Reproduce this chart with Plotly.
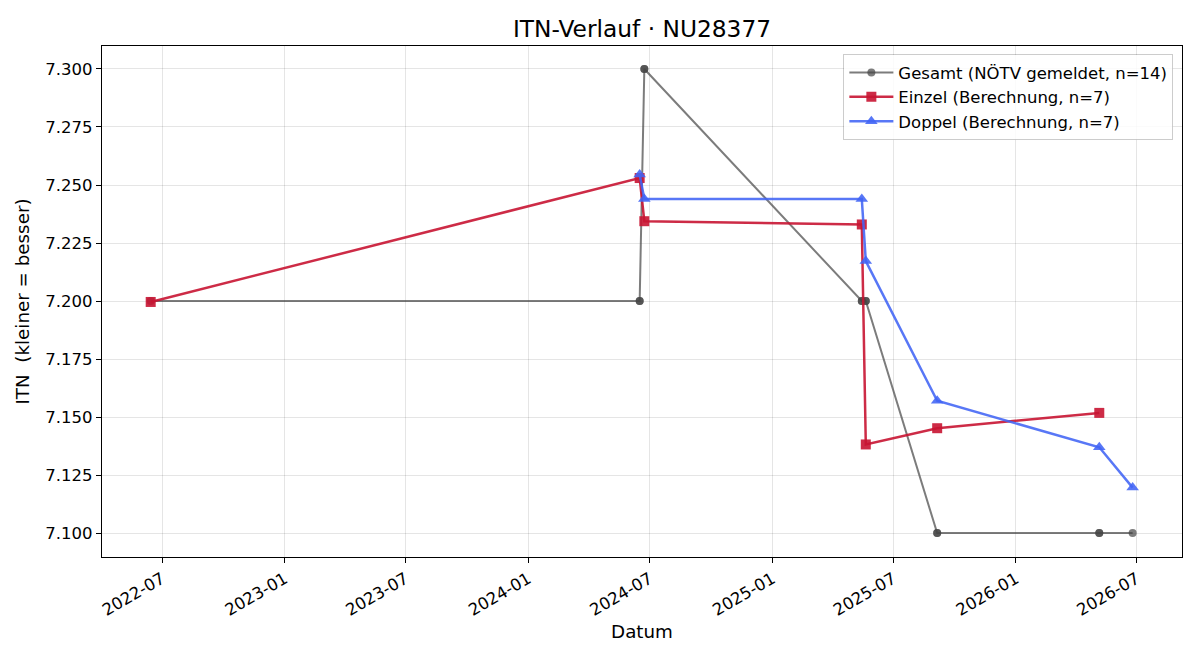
import plotly.graph_objects as go

# Gesamt (NÖTV gemeldet) – 14 Meldungen (einige am gleichen Datum)
gesamt_dates = ["2022-06-14", "2024-06-16", "2024-06-16", "2024-06-23", "2024-06-23",
                "2025-05-15", "2025-05-15", "2025-05-21", "2025-05-21",
                "2025-09-05", "2025-09-05", "2026-05-06", "2026-05-06", "2026-06-25"]
gesamt_itn = [7.200, 7.200, 7.200, 7.300, 7.300,
              7.200, 7.200, 7.200, 7.200,
              7.100, 7.100, 7.100, 7.100, 7.100]

einzel_dates = ["2022-06-14", "2024-06-16", "2024-06-23", "2025-05-15",
                "2025-05-21", "2025-09-05", "2026-05-06"]
einzel_itn = [7.1996, 7.2530, 7.2344, 7.2330, 7.1382, 7.1452, 7.1518]

doppel_dates = ["2024-06-16", "2024-06-23", "2025-05-15", "2025-05-21",
                "2025-09-05", "2026-05-06", "2026-06-25"]
doppel_itn = [7.2545, 7.2440, 7.2440, 7.2172, 7.1570, 7.1370, 7.1196]

y_ticks = [7.100, 7.125, 7.150, 7.175, 7.200, 7.225, 7.250, 7.275, 7.300]

FONT = "DejaVu Sans"
TICK_SIZE = 16.5
LABEL_SIZE = 18.3
TITLE_SIZE = 23.3

fig = go.Figure()
fig.add_trace(go.Scatter(
    x=gesamt_dates, y=gesamt_itn, mode="lines+markers",
    name="Gesamt (NÖTV gemeldet, n=14)",
    line=dict(color="rgba(68,68,68,0.7)", width=2),
    marker=dict(symbol="circle", size=8, color="rgba(68,68,68,0.7)"),
))
fig.add_trace(go.Scatter(
    x=einzel_dates, y=einzel_itn, mode="lines+markers",
    name="Einzel (Berechnung, n=7)",
    line=dict(color="rgba(200,20,50,0.9)", width=2.5),
    marker=dict(symbol="square", size=10, color="rgba(200,20,50,0.9)"),
))
fig.add_trace(go.Scatter(
    x=doppel_dates, y=doppel_itn, mode="lines+markers",
    name="Doppel (Berechnung, n=7)",
    line=dict(color="rgba(65,100,245,0.88)", width=2.5),
    marker=dict(symbol="triangle-up", size=11, color="rgba(65,100,245,0.88)"),
))

axis_common = dict(
    showline=True, linecolor="black", linewidth=1.2, mirror=True,
    ticks="outside", ticklen=5, tickcolor="black", tickwidth=1,
    showgrid=True, gridcolor="rgba(0,0,0,0.1)", gridwidth=1,
    zeroline=False, tickfont=dict(family=FONT, size=TICK_SIZE, color="black"),
)

fig.update_layout(
    width=1200, height=660,
    margin=dict(l=102, r=18, t=46, b=103),
    paper_bgcolor="white", plot_bgcolor="white",
    font=dict(family=FONT, color="black"),
    title=dict(text="ITN-Verlauf · NU28377", x=0.535, xanchor="center",
               y=0.957, yanchor="middle", font=dict(family=FONT, size=TITLE_SIZE, color="black")),
    legend=dict(x=0.992, y=0.984, xanchor="right", yanchor="top",
                bgcolor="rgba(255,255,255,0.85)", bordercolor="rgba(0,0,0,0.2)",
                borderwidth=1, font=dict(family=FONT, size=TICK_SIZE, color="black"),
                tracegroupgap=0, itemwidth=44),
    showlegend=True,
)
fig.update_xaxes(
    **axis_common,
    type="date", range=["2022-04-02", "2026-09-07"],
    tick0="2022-07-01", dtick="M6", tickformat="%Y-%m", tickangle=-30,
    title=dict(text="Datum", font=dict(family=FONT, size=LABEL_SIZE), standoff=6),
)
fig.update_yaxes(
    **axis_common,
    range=[7.0897, 7.3099], tickvals=y_ticks,
    ticktext=[f"{v:.3f}" for v in y_ticks],
    title=dict(text="ITN  (kleiner = besser)", font=dict(family=FONT, size=LABEL_SIZE), standoff=10),
)

fig.write_html("out.html")
